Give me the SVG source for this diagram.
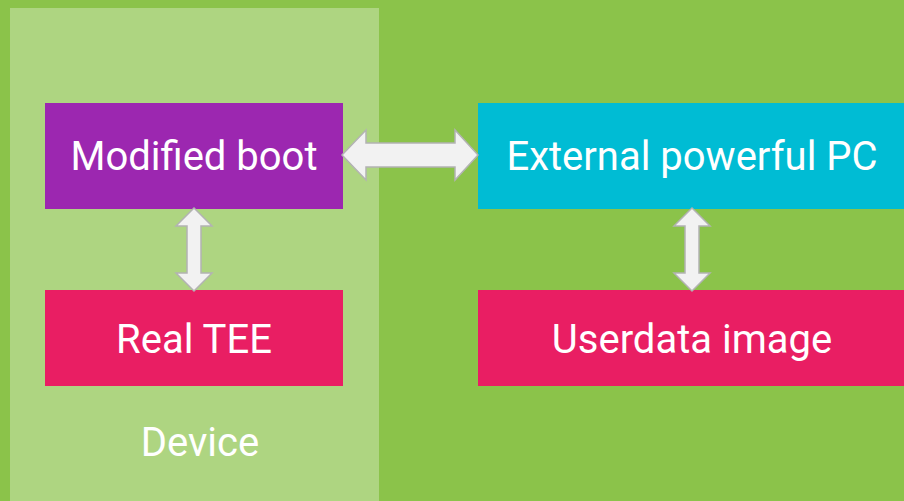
<svg xmlns="http://www.w3.org/2000/svg" width="904" height="501" viewBox="0 0 904 501">
<style>
.lbl{font-family:Roboto,"Liberation Sans",sans-serif;font-size:40px;fill:#ffffff;text-anchor:middle}
.arr{fill:#F2F2F2;stroke:#B3B3B3;stroke-width:1.5;stroke-linejoin:miter}
</style>
<rect x="0" y="0" width="904" height="501" fill="#8BC34A"/>
<g id="device">
<rect x="10" y="8" width="369" height="493" fill="#AED581"/>
<text class="lbl" x="200" y="456">Device</text>
</g>
<g id="modified-boot">
<rect x="45" y="103" width="298" height="106" fill="#9C27B0"/>
<text class="lbl" x="194" y="170">Modified boot</text>
</g>
<g id="real-tee">
<rect x="45" y="290" width="298" height="96" fill="#E91E63"/>
<text class="lbl" x="194" y="353">Real TEE</text>
</g>
<g id="external-pc">
<rect x="478" y="103" width="426" height="106" fill="#00BCD4"/>
<text class="lbl" x="692" y="170">External powerful PC</text>
</g>
<g id="userdata">
<rect x="478" y="290" width="426" height="96" fill="#E91E63"/>
<text class="lbl" x="692" y="353">Userdata image</text>
</g>
<g id="connectors">
<path class="arr" d="M342,155 L366,130 L366,143 L455,143 L455,130 L478,155 L455,180 L455,167 L366,167 L366,180 Z"/>
<path class="arr" d="M194,208 L212,226 L201,226 L201,273 L212,273 L194,291 L176,273 L187,273 L187,226 L176,226 Z"/>
<path class="arr" d="M692,208 L710,226 L699,226 L699,273 L710,273 L692,291 L674,273 L685,273 L685,226 L674,226 Z"/>
</g>
</svg>
